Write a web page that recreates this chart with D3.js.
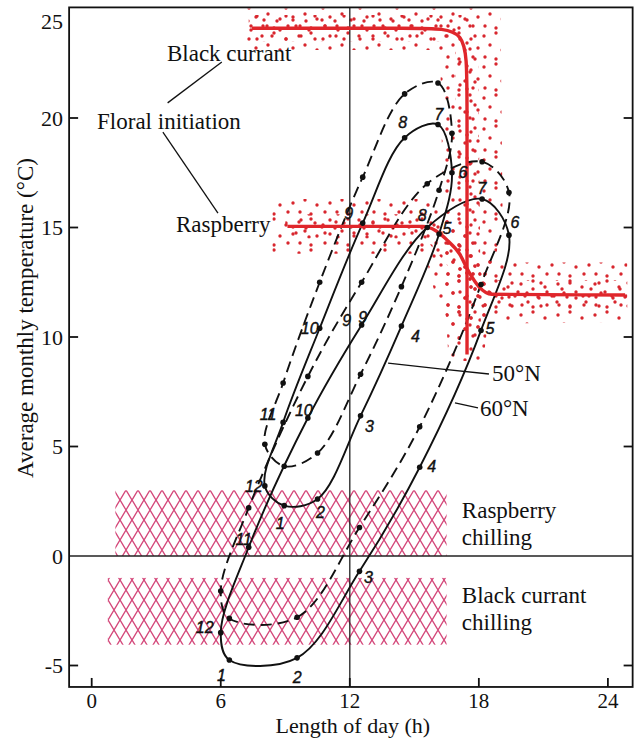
<!DOCTYPE html>
<html lang="en">
<head>
<meta charset="UTF-8">
<script src="https://cdnjs.cloudflare.com/ajax/libs/d3/7.8.5/d3.min.js"></script>
<title>Floral initiation and chilling</title>
<style>
  body { margin: 0; background: #fff; }
  svg { display: block; }
</style>
</head>
<body>
<div id="chart"></div>
<script>
// ---- data ----
let months = [1, 2, 3, 4, 5, 6, 7, 8, 9, 10, 11, 12];

// length of day (h) for each month
let dayLen50 = [8.95, 10.5, 12.5, 14.4, 16.15, 16.75, 16.1, 14.55, 12.6, 10.6, 8.9, 8.05];
let dayLen60 = [6.4, 9.55, 12.45, 15.25, 18.1, 19.4, 18.15, 15.6, 12.55, 10.05, 7.3, 6.0];

// average monthly temperature (°C)
let temp50solid = [2.3, 2.6, 6.4, 10.5, 14.7, 17.5, 19.7, 19.1, 15.2, 10.4, 6.1, 3.2];
let temp50dash  = [4.1, 4.7, 8.3, 12.3, 16.7, 19.3, 21.6, 21.1, 17.3, 12.5, 7.9, 5.1];
let temp60solid = [-4.75, -4.65, -0.7, 4.05, 10.3, 14.65, 16.3, 15.0, 10.55, 6.3, 0.4, -3.5];
let temp60dash  = [-2.85, -2.8, 1.3, 5.9, 12.4, 16.6, 18.0, 17.0, 12.5, 8.2, 2.2, -1.6];

// floral initiation thresholds (day length, temperature)
let bcDay  = [7.45, 15.4, 17.45, 17.45, 17.45];
let bcTemp = [24.1, 24.1, 24.1, 21.6, 9.2];
let rbDay  = [9.1, 15.4, 16.0, 16.55, 17.1, 17.55, 18.0, 18.6, 24.8];
let rbTemp = [15.05, 15.05, 14.85, 14.4, 13.8, 12.95, 12.3, 11.95, 11.92];

// spread of observations round the thresholds (outline of the dotted zones)
let bcSpread = [[7.2, 25], [19.0, 25], [19.1, 16], [18.6, 12], [18.2, 8.9], [16.6, 8.9], [16.4, 12], [16.2, 23.1], [7.2, 23.1]];
let bcCore = [[7.3, 24.7], [17.95, 24.7], [18.1, 10], [17.0, 10], [16.9, 23.5], [7.3, 23.5]];
let rbSpread = [[8.4, 16.3], [15.8, 16.3], [17.0, 15.3], [18.2, 13.6], [19.5, 13.4], [24.9, 13.4], [24.9, 10.7], [18.5, 10.6], [17.0, 10.0], [16.0, 11.8], [15.5, 13.8], [8.4, 13.8]];
let rbCore = [[9.0, 15.6], [15.8, 15.6], [18.4, 12.6], [24.9, 12.6], [24.9, 11.3], [18.2, 11.3], [15.5, 14.5], [9.0, 14.5]];

// chilling zones
let chillDayLo  = [1.1, 0.75];
let chillDayHi  = [16.5, 16.5];
let chillTempLo = [0, -4.05];
let chillTempHi = [3.0, -1.0];

let xTicks = [0, 6, 12, 18, 24];
let yTicks = [-5, 0, 5, 10, 15, 20, 25];

// ---- setup ----
let width = 635;
let height = 738;
let red = "#e0262b";

let x = d3.scaleLinear().domain([0, 24]).range([91.7, 607.9]);
let y = d3.scaleLinear().domain([-5, 25]).range([665.5, 8.5]);
let frameDay = [-1.05, 25.15];
let frameTemp = [-5.98, 25.05];

let svg = d3.select("#chart").append("svg")
    .attr("width", width)
    .attr("height", height);

let defs = svg.append("defs");

// cross hatching for the chilling zones
let hatch = defs.append("pattern")
    .attr("id", "hatch")
    .attr("patternUnits", "userSpaceOnUse")
    .attr("width", 12)
    .attr("height", 20);
hatch.append("path")
    .attr("d", "M-3,-5L15,25M15,-5L-3,25")
    .attr("stroke", "#d4487a")
    .attr("stroke-width", 1.4)
    .attr("fill", "none");

// scattered red dots
function dotPattern(id, w, h, pts) {
    let p = defs.append("pattern")
        .attr("id", id)
        .attr("patternUnits", "userSpaceOnUse")
        .attr("width", w)
        .attr("height", h);
    pts.forEach(function(q) {
        p.append("circle").attr("cx", q[0]).attr("cy", q[1]).attr("r", 1.7).attr("fill", "#d8262e");
    });
}
dotPattern("dotsA", 37, 31, [[3, 5], [15, 2], [27, 8], [34, 17], [9, 14], [21, 19], [4, 26], [15, 28], [29, 26]]);
dotPattern("dotsB", 29, 23, [[6, 3], [19, 7], [11, 13], [25, 16], [3, 20], [16, 21]]);

let area = d3.line().x(d => x(d[0])).y(d => y(d[1]));

// chilling zones
chillDayLo.forEach(function(lo, i) {
    svg.append("rect")
        .attr("x", x(lo))
        .attr("y", y(chillTempHi[i]))
        .attr("width", x(chillDayHi[i]) - x(lo))
        .attr("height", y(chillTempLo[i]) - y(chillTempHi[i]))
        .attr("fill", "url(#hatch)");
});

// dotted spread zones
[bcSpread, rbSpread].forEach(function(poly) {
    svg.append("path").attr("d", area(poly) + "Z").attr("fill", "url(#dotsA)");
});
[bcCore, rbCore].forEach(function(poly) {
    svg.append("path").attr("d", area(poly) + "Z").attr("fill", "url(#dotsB)");
});

// reference lines at 12 h and 0 °C
svg.append("line")
    .attr("x1", x(12)).attr("x2", x(12))
    .attr("y1", y(frameTemp[0])).attr("y2", y(frameTemp[1]))
    .attr("stroke", "#222").attr("stroke-width", 1.3);
svg.append("line")
    .attr("x1", x(frameDay[0])).attr("x2", x(frameDay[1]))
    .attr("y1", y(0)).attr("y2", y(0))
    .attr("stroke", "#222").attr("stroke-width", 1.3);

// climate loops
let loops = [
    {day: dayLen50, temp: temp50dash, dash: "11,6"},
    {day: dayLen60, temp: temp60dash, dash: "11,6"},
    {day: dayLen50, temp: temp50solid, dash: null},
    {day: dayLen60, temp: temp60solid, dash: null}
];
let loopLine = d3.line()
    .x(d => x(d[0]))
    .y(d => y(d[1]))
    .curve(d3.curveCatmullRomClosed.alpha(0.5));

loops.forEach(function(loop) {
    loop.pts = months.map((m, i) => [loop.day[i], loop.temp[i]]);
    svg.append("path")
        .attr("d", loopLine(loop.pts))
        .attr("fill", "none")
        .attr("stroke", "#111")
        .attr("stroke-width", 1.9)
        .attr("stroke-dasharray", loop.dash);
});

// floral initiation thresholds
let threshLine = d3.line().x(d => x(d[0])).y(d => y(d[1]));
svg.append("path")
    .attr("d", threshLine.curve(d3.curveBasis)(bcDay.map((d, i) => [d, bcTemp[i]])))
    .attr("fill", "none").attr("stroke", red).attr("stroke-width", 3.4);
svg.append("path")
    .attr("d", threshLine.curve(d3.curveMonotoneX)(rbDay.map((d, i) => [d, rbTemp[i]])))
    .attr("fill", "none").attr("stroke", red).attr("stroke-width", 3.4);

// month markers
loops.forEach(function(loop) {
    svg.selectAll(null)
        .data(loop.pts)
        .enter()
        .append("circle")
        .attr("cx", d => x(d[0]))
        .attr("cy", d => y(d[1]))
        .attr("r", 2.8)
        .attr("fill", "#111");
});

// month numbers on the two solid loops: [month, dx, dy]
let labels50 = [[1, -4, 18], [2, 3, 13], [3, 9, 10], [4, 14, 10], [5, 8, -6], [6, 11, -1],
                [7, 1, -10], [8, -2, -15], [9, -14, -10], [10, -10, 0], [11, -15, -8], [12, -11, 0]];
let labels60 = [[1, -8, 15], [2, 0, 19], [3, 9, 6], [4, 12, -1], [5, 9, -2], [6, 6, -13],
                [7, 0, -11], [8, -5, -12], [9, -15, -5], [9, 1, -8], [10, -4, -8], [11, -5, -8], [12, -16, -5]];

function monthLabels(loop, labels) {
    svg.selectAll(null)
        .data(labels)
        .enter()
        .append("text")
        .attr("x", d => x(loop.day[d[0] - 1]) + d[1])
        .attr("y", d => y(loop.temp[d[0] - 1]) + d[2])
        .attr("dy", "0.36em")
        .attr("text-anchor", "middle")
        .attr("font-family", "'Liberation Sans Narrow', 'Liberation Sans', sans-serif")
        .attr("font-style", "italic")
        .attr("font-size", "16px")
        .attr("fill", "#111")
        .attr("stroke", "#111")
        .attr("stroke-width", 0.4)
        .text(d => d[0]);
}
monthLabels(loops[2], labels50);
monthLabels(loops[3], labels60);

// ---- frame and ticks ----
let ink = "#111";
svg.append("rect")
    .attr("x", x(frameDay[0]))
    .attr("y", y(frameTemp[1]))
    .attr("width", x(frameDay[1]) - x(frameDay[0]))
    .attr("height", y(frameTemp[0]) - y(frameTemp[1]))
    .attr("fill", "none").attr("stroke", ink).attr("stroke-width", 1.8);

yTicks.filter(v => v !== 0 && v !== 25).forEach(function(v) {
    svg.append("line")
        .attr("x1", x(frameDay[0])).attr("x2", x(frameDay[0]) + 9)
        .attr("y1", y(v)).attr("y2", y(v))
        .attr("stroke", ink).attr("stroke-width", 1.8);
    svg.append("line")
        .attr("x1", x(frameDay[1])).attr("x2", x(frameDay[1]) - 9)
        .attr("y1", y(v)).attr("y2", y(v))
        .attr("stroke", ink).attr("stroke-width", 1.8);
});
xTicks.forEach(function(v) {
    svg.append("line")
        .attr("x1", x(v)).attr("x2", x(v))
        .attr("y1", y(frameTemp[0])).attr("y2", y(frameTemp[0]) - 9)
        .attr("stroke", ink).attr("stroke-width", 1.8);
});

let serif = "'Liberation Serif', 'DejaVu Serif', serif";

svg.selectAll(null)
    .data(yTicks)
    .enter()
    .append("text")
    .attr("x", x(frameDay[0]) - 6)
    .attr("y", d => Math.max(y(d), 21))
    .attr("dy", "0.36em")
    .attr("text-anchor", "end")
    .attr("font-family", serif)
    .attr("font-size", "22px")
    .attr("fill", ink)
    .text(d => d);

svg.selectAll(null)
    .data(xTicks)
    .enter()
    .append("text")
    .attr("x", d => x(d))
    .attr("y", 708)
    .attr("text-anchor", "middle")
    .attr("font-family", serif)
    .attr("font-size", "21px")
    .attr("fill", ink)
    .text(d => d);

svg.append("text")
    .attr("x", x(12) + 3)
    .attr("y", 733)
    .attr("text-anchor", "middle")
    .attr("font-family", serif)
    .attr("font-size", "22px")
    .attr("fill", ink)
    .text("Length of day (h)");

svg.append("text")
    .attr("transform", "translate(33," + 318 + ") rotate(-90)")
    .attr("text-anchor", "middle")
    .attr("font-family", serif)
    .attr("font-size", "23px")
    .attr("fill", ink)
    .text("Average monthly temperature (°C)");

// ---- annotations (placed in data units) ----
let notes = [
    {text: "Black currant", day: 3.5, temp: 23.0},
    {text: "Floral initiation", day: 0.25, temp: 19.86},
    {text: "Raspberry", day: 3.92, temp: 15.16},
    {text: "50°N", day: 18.61, temp: 8.36},
    {text: "60°N", day: 18.05, temp: 6.76},
    {text: "Raspberry", day: 17.21, temp: 2.1},
    {text: "chilling", day: 17.21, temp: 0.87},
    {text: "Black currant", day: 17.21, temp: -1.78},
    {text: "chilling", day: 17.21, temp: -3.01}
];
svg.selectAll(null)
    .data(notes)
    .enter()
    .append("text")
    .attr("x", d => x(d.day))
    .attr("y", d => y(d.temp))
    .attr("dy", "0.36em")
    .attr("font-family", serif)
    .attr("font-size", "23px")
    .attr("fill", ink)
    .text(d => d.text);

let leaders = [
    [[6.05, 22.56], [3.53, 20.69]],
    [[3.31, 19.36], [5.87, 15.66]],
    [[13.78, 8.81], [16.19, 8.54], [18.47, 8.31]],
    [[16.89, 6.99], [17.96, 6.76]]
];
let leaderLine = d3.line().x(d => x(d[0])).y(d => y(d[1])).curve(d3.curveNatural);
leaders.forEach(function(l) {
    svg.append("path")
        .attr("d", leaderLine(l))
        .attr("fill", "none")
        .attr("stroke", ink)
        .attr("stroke-width", 1.3);
});
</script>
</body>
</html>
